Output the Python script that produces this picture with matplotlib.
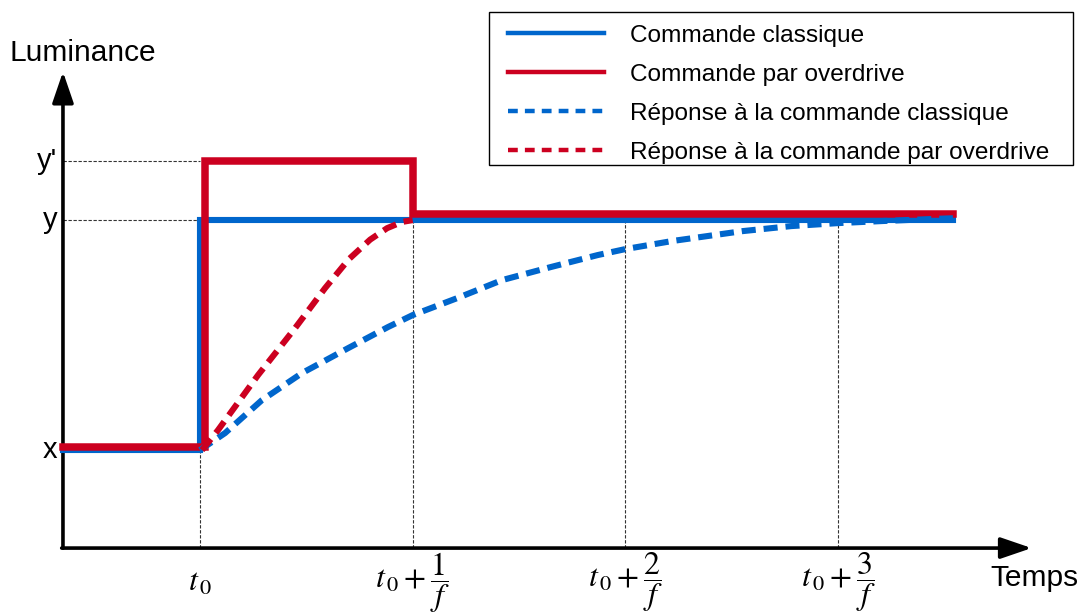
import matplotlib.pyplot as plt
import matplotlib.lines as mlines
from matplotlib.patches import Rectangle

plt.rcParams['font.family'] = ['Liberation Sans', 'DejaVu Sans']
plt.rcParams['mathtext.fontset'] = 'stix'

# niveaux de luminance (x = 0, y = 1, y' = depassement)
lum_x = 0.0
lum_y = 1.0
lum_yp = 1.257

# temps en periodes 1/f apres t0
t_start = -0.644
t_end = 3.54
t_ticks = [0, 1, 2, 3]
tick_labels = [r'$t_{\,\mathrm{0}}$',
               r'$t_{\,\mathrm{0}}+\dfrac{1}{f}$',
               r'$t_{\,\mathrm{0}}+\dfrac{2}{f}$',
               r'$t_{\,\mathrm{0}}+\dfrac{3}{f}$']
level_labels = ['x', 'y', "y'"]

# commandes
cmd_classic_t = [t_start, 0, 0, t_end]
cmd_classic_l = [lum_x, lum_x, lum_y, lum_y]
cmd_over_t = [t_start, 0.025, 0.025, 1.0, 1.0, t_end]
cmd_over_l = [0.012, 0.012, lum_yp, lum_yp, 1.025, 1.025]

# reponses
resp_classic_t = [0, 0.118, 0.291, 0.48, 0.696, 0.884, 1.0, 1.21, 1.42, 1.65,
                  1.87, 2.0, 2.22, 2.55, 2.78, 3.0, 3.21, 3.45, 3.54]
resp_classic_l = [0, 0.074, 0.217, 0.335, 0.443, 0.535, 0.587, 0.661, 0.739, 0.796,
                  0.848, 0.874, 0.909, 0.952, 0.974, 0.987, 0.996, 1.005, 1.008]
resp_over_t = [0.01, 0.085, 0.273, 0.447, 0.588, 0.70, 0.80, 0.88, 0.95, 1.0]
resp_over_l = [0.0, 0.087, 0.326, 0.53, 0.704, 0.83, 0.915, 0.965, 0.992, 1.0]

blue = '#0066cc'
red = '#cc0020'
axis_l = -0.426
axis_t = t_start

W, H = 1081, 615
fig = plt.figure(figsize=(W / 100, H / 100), dpi=100)
ax = fig.add_axes([0, 0, 1, 1])
ax.set_xlim(-0.940, 4.142)
ax.set_ylim(-0.717, 1.957)
ax.axis('off')

# lignes de repere pointillees
guide = dict(color='#333333', lw=0.8, ls=(0, (3, 1.5)), zorder=1)
ax.plot([axis_t, 0], [lum_yp, lum_yp], **guide)
ax.plot([axis_t, 0], [lum_y, lum_y], **guide)
for t in t_ticks:
    ax.plot([t, t], [axis_l, lum_y], **guide)

# axes avec fleches
arr = dict(arrowstyle='-|>,head_length=1.9,head_width=0.65', lw=2.6, color='k',
           mutation_scale=10, shrinkA=0, shrinkB=0)
ax.annotate('', xy=(axis_t, 1.645), xytext=(axis_t, axis_l), arrowprops=arr)
ax.annotate('', xy=(3.91, axis_l), xytext=(axis_t - 0.006, axis_l), arrowprops=arr)

lw = 4.4
dash = (0, (2.3, 1.3))
ax.plot(cmd_classic_t, cmd_classic_l, color=blue, lw=lw, zorder=3,
        solid_joinstyle='miter', label='Commande classique')
ax.plot(cmd_over_t, cmd_over_l, color=red, lw=lw + 1, zorder=4,
        solid_joinstyle='miter', label='Commande par overdrive')
ax.plot(resp_classic_t, resp_classic_l, color=blue, lw=lw, ls=dash, zorder=5,
        dash_capstyle='butt', label='Réponse à la commande classique')
ax.plot(resp_over_t, resp_over_l, color=red, lw=lw, ls=dash, zorder=6,
        dash_capstyle='butt', label='Réponse à la commande par overdrive')

# etiquettes
for lab, lv in zip(level_labels, [lum_x, lum_y, lum_yp]):
    ax.text(-0.672, lv, lab, ha='right', va='center', fontsize=21)
for t, lab in zip(t_ticks, tick_labels):
    ax.text(t, -0.575, lab, ha='center', va='center', fontsize=23)
ax.text(-0.893, 1.728, 'Luminance', ha='left', va='center', fontsize=21.5)
ax.text(3.714, -0.557, 'Temps', ha='left', va='center', fontsize=21.5)

# legende : cadre dessine a part
fig.patches.append(Rectangle((489 / W, 1 - 165 / H), 584 / W, 153 / H,
                             transform=fig.transFigure, fill=False,
                             edgecolor='k', lw=1.0, zorder=10))
handles = [
    mlines.Line2D([], [], color=blue, lw=3.2),
    mlines.Line2D([], [], color=red, lw=3.2),
    mlines.Line2D([], [], color=blue, lw=3.2, ls=(0, (2.2, 1.6))),
    mlines.Line2D([], [], color=red, lw=3.2, ls=(0, (2.2, 1.6))),
]
labels = ['Commande classique', 'Commande par overdrive',
          'Réponse à la commande classique', 'Réponse à la commande par overdrive']
leg = ax.legend(handles, labels, loc='upper left',
                bbox_to_anchor=(508 / W, 1 - 24.5 / H), bbox_transform=fig.transFigure,
                fontsize=17.6, frameon=False,
                handlelength=3.92, handletextpad=1.06, labelspacing=0.69,
                borderpad=0, borderaxespad=0)

fig.savefig('out.png', dpi=100)
